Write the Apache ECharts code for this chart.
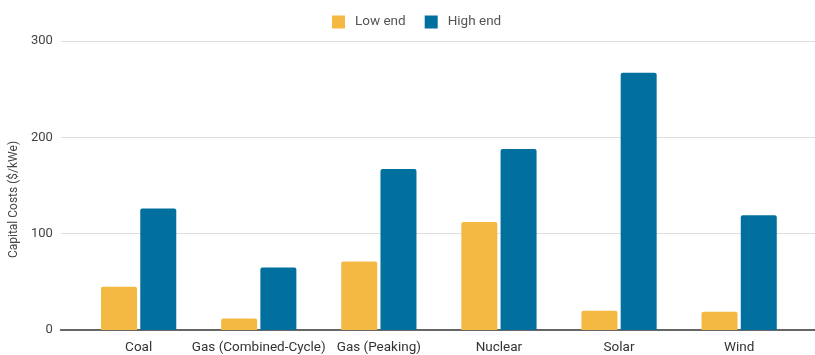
<!DOCTYPE html>
<html>
<head>
<meta charset="utf-8">
<script src="https://cdn.jsdelivr.net/npm/echarts@6/dist/echarts.min.js"></script>
<style>
  html, body { margin: 0; padding: 0; background: #fff; }
  #chart { width: 815px; height: 355px; }
</style>
</head>
<body>
<div id="chart"></div>
<script>
// Capital costs by generation technology ($/kWe)
const categories = ['Coal', 'Gas (Combined-Cycle)', 'Gas (Peaking)', 'Nuclear', 'Solar', 'Wind'];
const lowEnd = [45, 12, 71, 112, 20, 19];
const highEnd = [126, 65, 167, 188, 267, 119];
const yTicks = { min: 0, max: 300, interval: 100 };

const font = 'Roboto, "Noto Sans", sans-serif';
const chart = echarts.init(document.getElementById('chart'));

chart.setOption({
  animation: false,
  textStyle: { fontFamily: font },
  legend: {
    top: 10,
    left: 327,
    itemWidth: 13,
    itemHeight: 13,
    itemGap: 19,
    icon: 'rect',
    textStyle: { fontSize: 13.5, color: '#555', fontFamily: font, padding: [0, 0, 0, 5] },
    data: ['Low end', 'High end']
  },
  grid: [
    // background grid: gridlines, y labels and baseline span the full width
    { left: 58, right: 0, top: 41, bottom: 25, containLabel: false },
    // bar grid
    { left: 78.6, right: 15.8, top: 41, bottom: 25, containLabel: false }
  ],
  xAxis: [
    {
      gridIndex: 0, type: 'value', min: 0, max: 1,
      axisLine: { show: true, lineStyle: { color: '#666', width: 2 } },
      axisTick: { show: false }, axisLabel: { show: false }, splitLine: { show: false }
    },
    {
      gridIndex: 1, type: 'category', data: categories,
      axisLine: { show: false }, axisTick: { show: false },
      axisLabel: { color: '#333', fontSize: 13.5, margin: 11, interval: 0, fontFamily: font }
    }
  ],
  yAxis: [
    {
      gridIndex: 0, type: 'value', min: yTicks.min, max: yTicks.max, interval: yTicks.interval,
      name: 'Capital Costs ($/kWe)', nameLocation: 'middle', nameGap: 36, nameRotate: 90,
      nameTextStyle: { color: '#444', fontSize: 12, fontFamily: font, padding: [0, 28, 0, 0] },
      axisLine: { show: false }, axisTick: { show: false },
      axisLabel: { color: '#444', fontSize: 13, margin: 8, fontFamily: font },
      splitLine: { lineStyle: { color: '#dedede', width: 1 } }
    },
    {
      gridIndex: 1, type: 'value', min: yTicks.min, max: yTicks.max, interval: yTicks.interval,
      show: false, splitLine: { show: false }
    }
  ],
  series: [
    {
      name: 'Low end', type: 'bar', xAxisIndex: 1, yAxisIndex: 1,
      data: lowEnd, barWidth: 36, barGap: '9%',
      itemStyle: { color: '#F4B942', borderRadius: [2, 2, 0, 0] }
    },
    {
      name: 'High end', type: 'bar', xAxisIndex: 1, yAxisIndex: 1,
      data: highEnd, barWidth: 36, barGap: '9%',
      itemStyle: { color: '#01709F', borderRadius: [2, 2, 0, 0] }
    }
  ]
});
</script>
</body>
</html>
